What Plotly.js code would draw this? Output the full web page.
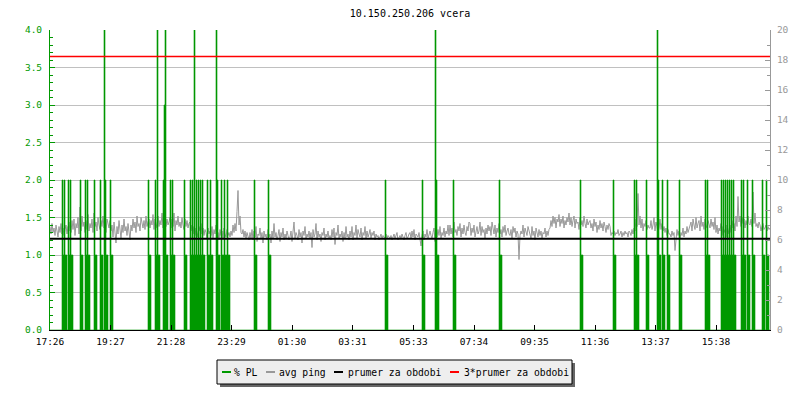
<!DOCTYPE html>
<html>
<head>
<meta charset="utf-8">
<script src="https://cdn.plot.ly/plotly-3.0.1.min.js"></script>
<style>html,body{margin:0;padding:0;background:#fff;}#chart{width:800px;height:400px;}</style>
</head>
<body>
<div id="chart"></div>
<script>
// ---- data ----
const chartTitle = '10.150.250.206 vcera';
const seriesNames = ['% PL', 'avg ping', 'prumer za obdobi', '3*prumer za obdobi'];
const startTime = '17:26';
const tickLabels = ['17:26','19:27','21:28','23:29','01:30','03:31','05:33','07:34','09:35','11:36','13:37','15:38'];
const periodMinutes = 1440;

// packet loss samples (minutes after start, percent); all other 2-minute samples are 0
const plMinute = [
  24,26,28,30,32, 36,38,40,42,44, 60,62,64, 70,72,74,76,78, 88,90,92, 100,102,104,
  108,110,112,114, 120,122,124, 196,198,200, 210,212,214,216,218, 226,228,230,232,234,
  240,242,244,246,248, 268,270,272,
  280,282,284,286,288,290,292,294,296,298,300,302,304,306,308,
  314,316,318,320,322,324, 332,334,336,338, 342,344,346,348,350,352,354,356,358,
  408,410,412, 436,438,440, 670,672,674, 744,746,748, 770,772,774,776, 806,808,810,
  898,900,902, 1060,1062,1064, 1126,1128,1130, 1168,1170,1172,1174,1176, 1192,1194,1196,
  1214,1216,1218,1220, 1224,1226,1228, 1234,1236,1238, 1258,1260,1262, 1310,1312,1314,1316,1318,
  1342,1344,1346,1348,1350,1352,1354,1356,1358,1360,1362,1364,1366,1368,1370,
  1382,1384,1386,1388,1390, 1394,1396,1398, 1404,1406,1408, 1424,1426,1428, 1432,1434,1436
];
const plValue = [
  2,1,2,1,1, 2,1,2,1,1, 2,1,1, 2,1,2,1,1, 2,1,1, 2,1,1,
  4,2,1,1, 2,1,1, 2,1,1, 2,1,4,1,1, 2,3,4,1,1,
  2,1,2,1,1, 2,1,1,
  2,1,2,1,4,1,2,1,2,1,2,1,2,1,1,
  2,1,1,2,1,1, 4,2,1,1, 2,1,1,2,1,1,2,1,1,
  2,1,1, 2,1,1, 2,1,1, 2,1,1, 4,2,1,1, 2,1,1,
  2,1,1, 2,1,1, 2,1,1, 2,1,2,1,1, 2,1,1,
  4,2,1,1, 2,1,1, 2,1,1, 2,1,1, 2,1,2,1,1,
  2,1,2,1,2,1,2,1,2,1,2,1,2,1,1,
  2,1,2,1,1, 2,1,1, 2,1,1, 2,1,1, 2,1,1
];
const plStepMinutes = 2;

// average ping (ms), one value every 2 minutes from the start
const pingStepMinutes = 2;
const avgPing = [
  6.9,6.4,7.1,6.5,6.8,6.3,7.0,6.6,6.2,6.9,6.5,7.1,6.4,6.8,6.3,6.7,7.0,6.4,6.9,6.6,
  7.2,6.5,7.3,6.7,7.4,6.3,7.1,6.8,7.5,6.4,8.2,6.6,7.6,6.9,7.2,6.5,7.3,6.7,7.7,6.6,
  7.1,6.8,7.4,6.5,7.8,6.9,7.2,6.6,7.5,7.0,6.7,7.3,6.9,7.6,6.8,7.1,6.5,7.4,7.0,6.8,
  7.3,6.6,7.0,6.2,7.2,6.5,5.8,6.9,6.4,7.3,6.7,6.1,7.0,6.5,7.4,6.6,6.9,6.3,7.1,6.7,
  6.0,7.0,6.6,7.4,6.8,7.2,6.5,7.6,6.9,7.1,6.6,7.5,7.0,6.8,7.3,6.7,7.6,6.9,7.2,7.4,
  6.8,7.3,7.0,7.7,6.7,7.4,7.1,6.8,7.6,6.9,7.3,7.0,7.8,6.8,7.5,7.1,6.9,7.4,7.0,7.2,
  7.5,6.8,7.4,6.9,7.8,6.6,7.3,7.0,7.6,6.9,7.2,6.8,7.5,7.0,6.7,7.4,6.9,7.3,6.8,7.1,
  7.2,6.6,7.0,6.4,6.9,6.3,6.8,6.5,6.2,6.9,6.6,7.1,6.4,6.8,6.3,6.7,6.5,6.1,6.8,6.4,
  6.6,6.3,6.9,6.1,6.7,6.4,7.0,6.2,6.5,6.0,6.7,6.3,6.6,6.1,6.8,6.4,6.2,6.7,6.3,6.5,
  6.2,6.6,6.3,7.0,6.5,7.1,6.6,7.9,9.3,7.0,7.6,6.5,6.4,6.7,6.2,6.6,6.1,6.5,6.3,6.0,
  6.5,6.1,6.7,6.0,6.6,6.2,6.9,5.9,6.4,6.3,6.8,6.1,6.5,5.8,6.6,6.2,6.4,6.0,6.7,6.2,
  6.4,5.8,6.6,6.1,7.1,6.2,6.5,6.0,6.3,6.7,5.9,6.5,6.2,6.8,6.0,6.4,6.1,6.6,6.3,6.0,
  6.2,6.6,5.9,6.4,7.2,6.1,6.5,6.3,6.0,6.7,6.2,6.5,5.8,6.6,6.3,6.9,6.1,6.4,6.2,6.6,
  6.1,6.5,5.5,6.7,6.2,6.4,7.1,6.0,6.6,6.2,6.4,5.9,6.5,6.3,6.8,6.0,6.4,6.2,6.6,6.1,
  6.3,6.0,6.7,6.2,6.8,5.7,6.5,6.3,7.0,6.1,6.4,6.2,6.6,5.9,6.5,6.1,6.9,6.2,6.4,6.0,
  6.6,6.2,6.9,6.0,6.5,6.3,7.0,6.1,6.7,6.4,6.2,6.8,6.0,6.5,6.3,6.9,6.1,6.6,6.2,6.4,
  6.7,6.1,6.5,6.3,6.6,6.0,6.4,6.2,6.3,6.0,6.2,6.4,6.1,6.3,6.2,6.0,6.4,6.1,6.3,6.2,
  6.1,6.3,6.0,6.2,6.4,6.1,6.3,6.5,6.0,6.2,6.3,6.1,6.4,6.2,6.0,6.3,6.5,6.1,6.2,6.4,
  6.5,6.1,6.6,6.2,6.7,6.0,6.4,6.3,6.2,6.5,6.1,5.6,6.3,6.6,6.0,6.4,6.2,6.7,6.1,6.3,
  6.6,6.3,6.1,6.5,6.8,5.9,6.4,6.2,6.7,6.3,6.9,6.1,6.5,6.3,6.8,6.2,6.6,6.4,7.0,6.3,
  7.0,6.4,6.8,6.2,7.2,6.5,6.7,6.3,6.9,6.6,7.1,6.2,6.8,6.4,7.0,6.5,6.3,6.9,6.6,7.2,
  7.1,6.3,6.8,6.5,7.0,6.2,6.7,6.9,6.4,6.6,7.2,6.3,6.9,6.5,6.7,6.1,6.8,6.4,7.0,6.6,
  6.9,6.3,7.2,6.6,6.4,7.0,6.2,6.8,6.5,7.1,6.4,6.7,6.2,6.9,6.5,7.0,6.3,6.6,6.8,6.4,
  6.3,6.7,6.1,6.9,6.5,6.8,6.2,6.6,6.4,4.7,6.3,6.6,6.4,7.0,6.2,6.8,6.5,6.3,6.9,6.6,
  6.5,6.1,6.9,6.3,6.6,6.0,6.8,6.4,6.2,6.7,6.3,6.6,6.1,6.5,6.4,6.8,6.2,6.6,6.3,6.7,
  6.8,7.3,6.9,7.6,7.1,7.5,6.8,7.4,7.2,7.7,6.9,7.4,7.1,7.6,6.8,7.3,7.0,7.5,7.2,7.8,
  7.0,7.5,6.9,7.3,7.6,6.8,7.4,7.1,7.2,6.7,7.5,7.0,7.3,6.9,7.6,7.1,6.8,7.4,7.0,7.2,
  7.3,6.8,7.1,6.6,7.4,6.9,7.2,6.5,7.0,6.7,7.3,6.8,7.1,6.6,7.2,6.9,6.5,7.0,6.7,7.1,
  6.9,6.3,6.5,6.4,6.6,6.3,6.5,6.4,6.7,6.3,6.4,6.6,6.2,6.5,6.3,6.6,6.4,6.5,6.2,6.6,
  6.5,6.3,6.7,6.4,6.8,6.6,7.4,6.9,9.1,7.0,7.6,6.8,7.4,6.6,7.1,6.9,7.3,6.7,7.0,6.8,
  6.8,7.3,6.7,7.0,7.5,6.6,7.2,6.9,6.5,6.8,7.4,6.7,7.1,6.6,6.9,6.5,6.8,6.3,6.7,6.4,
  6.4,6.2,6.6,6.3,6.5,5.3,6.2,6.7,6.3,6.6,6.1,6.5,6.3,6.8,6.2,6.6,6.4,6.9,6.5,6.7,
  6.9,7.2,6.6,7.4,7.0,6.7,7.5,6.8,7.1,7.3,6.6,7.6,6.9,7.2,6.7,7.4,7.0,6.8,7.3,6.9,
  6.8,7.4,6.9,7.2,6.7,7.5,6.5,7.0,6.4,6.8,6.6,7.1,6.3,6.9,6.5,6.7,6.2,7.0,6.6,6.4,
  7.0,6.5,7.3,6.8,7.1,6.6,7.6,6.9,8.9,7.2,7.6,6.9,7.5,7.1,7.4,6.8,7.3,7.0,7.6,7.1,
  7.0,7.4,6.9,9.2,7.1,7.8,6.9,7.1,6.8,7.2,7.0,6.6,6.9,7.1,6.7,6.8,7.0,6.6,6.9,6.7,
  6.8
];
const periodMean = 6.08;        // prumer za obdobi (ms)
const periodMeanTimes3 = 18.24; // 3*prumer za obdobi (ms)

// ---- build traces ----
const toMin = s => { const p = s.split(':'); return (+p[0]) * 60 + (+p[1]); };
const start = toMin(startTime);
const tickVals = tickLabels.map(l => (toMin(l) - start + periodMinutes) % periodMinutes);

const plMap = new Map();
plMinute.forEach((m, i) => plMap.set(m, plValue[i]));
const plX = [], plY = [];
for (let m = 0; m <= periodMinutes; m += plStepMinutes) { plX.push(m); plY.push(plMap.has(m) ? plMap.get(m) : 0); }

const pingX = avgPing.map((v, i) => i * pingStepMinutes);

const GREEN = '#009900', GRAY = '#999999', GRID = '#c0c0c0';
const MONO = 'DejaVu Sans Mono, monospace';

const traces = [
  { x: plX, y: plY, yaxis: 'y2', type: 'scatter', mode: 'lines', name: seriesNames[0],
    line: { color: GREEN, width: 0.6, shape: 'hv' }, fill: 'tozeroy', fillcolor: GREEN, hoverinfo: 'skip' },
  { x: pingX, y: avgPing, yaxis: 'y', type: 'scatter', mode: 'lines', name: seriesNames[1],
    line: { color: GRAY, width: 1 } },
  { x: [0, periodMinutes], y: [periodMean, periodMean], yaxis: 'y3', type: 'scatter', mode: 'lines', name: seriesNames[2],
    line: { color: '#000000', width: 2 } },
  { x: [0, periodMinutes], y: [periodMeanTimes3, periodMeanTimes3], yaxis: 'y3', type: 'scatter', mode: 'lines', name: seriesNames[3],
    line: { color: '#ff0000', width: 1.5 } }
];

// ---- manual legend (pixel helpers) ----
const L = 50, R = 770, T = 30, B = 330;
const px = x => (x - L) / (R - L);
const py = y => (B - y) / (B - T);
const legendColors = [GREEN, GRAY, '#000000', '#ff0000'];
const swatchX = [222, 266, 334, 450];
const textX = [233, 278, 347, 463];
const legY = 372;
const shapes = [
  { type: 'rect', xref: 'paper', yref: 'paper', x0: px(220), x1: px(575), y0: py(387), y1: py(363),
    fillcolor: '#666666', line: { width: 0 }, layer: 'above' },
  { type: 'rect', xref: 'paper', yref: 'paper', x0: px(217), x1: px(572), y0: py(384), y1: py(360),
    fillcolor: '#eeeeee', line: { color: '#000000', width: 1 }, layer: 'above' }
];
const annotations = [];
seriesNames.forEach((n, i) => {
  shapes.push({ type: 'line', xref: 'paper', yref: 'paper', x0: px(swatchX[i]), x1: px(swatchX[i] + 9),
    y0: py(legY), y1: py(legY), line: { color: legendColors[i], width: 2 }, layer: 'above' });
  annotations.push({ xref: 'paper', yref: 'paper', x: px(textX[i]), y: py(legY), xanchor: 'left', yanchor: 'middle',
    text: n, showarrow: false, font: { family: MONO, size: 9.7, color: '#000' }, borderpad: 0 });
});

const layout = {
  width: 800, height: 400,
  margin: { l: 50, r: 30, t: 30, b: 70, pad: 0 },
  paper_bgcolor: '#ffffff', plot_bgcolor: '#ffffff',
  showlegend: false,
  title: { text: chartTitle, font: { family: MONO, size: 10, color: '#000' },
    x: 0.5, xref: 'paper', y: 1 - 13.5 / 400, yref: 'container', yanchor: 'middle' },
  xaxis: { range: [0, periodMinutes], tickvals: tickVals, ticktext: tickLabels, tickmode: 'array',
    showgrid: false, zeroline: false, showline: true, linecolor: '#000', linewidth: 1,
    ticks: 'inside', ticklen: 5, tickcolor: '#000', tickwidth: 1,
    tickfont: { family: MONO, size: 9.5, color: '#000' }, ticklabelstandoff: 3, anchor: 'y' },
  yaxis: { side: 'right', range: [0, 20], dtick: 2, tick0: 0, showgrid: false, zeroline: false,
    showline: true, linecolor: GRAY, linewidth: 1, ticks: 'inside', ticklen: 5, tickcolor: GRAY,
    tickfont: { family: MONO, size: 9.5, color: GRAY }, ticklabelstandoff: 4,
    minor: { dtick: 1, ticks: 'inside', ticklen: 3, tickcolor: GRAY, showgrid: false } },
  yaxis2: { side: 'left', overlaying: 'y', range: [0, 4], dtick: 0.5, tick0: 0, tickformat: '.1f',
    showgrid: true, gridcolor: GRID, gridwidth: 1, zeroline: false,
    showline: true, linecolor: GREEN, linewidth: 1, ticks: 'inside', ticklen: 5, tickcolor: GREEN,
    tickfont: { family: MONO, size: 9.5, color: GREEN }, ticklabelstandoff: 5,
    minor: { dtick: 0.1, ticks: 'inside', ticklen: 3, tickcolor: GREEN, showgrid: false } },
  yaxis3: { overlaying: 'y', range: [0, 20], visible: false },
  shapes: shapes,
  annotations: annotations
};

Plotly.newPlot('chart', traces, layout, { displayModeBar: false, staticPlot: true });
</script>
</body>
</html>
